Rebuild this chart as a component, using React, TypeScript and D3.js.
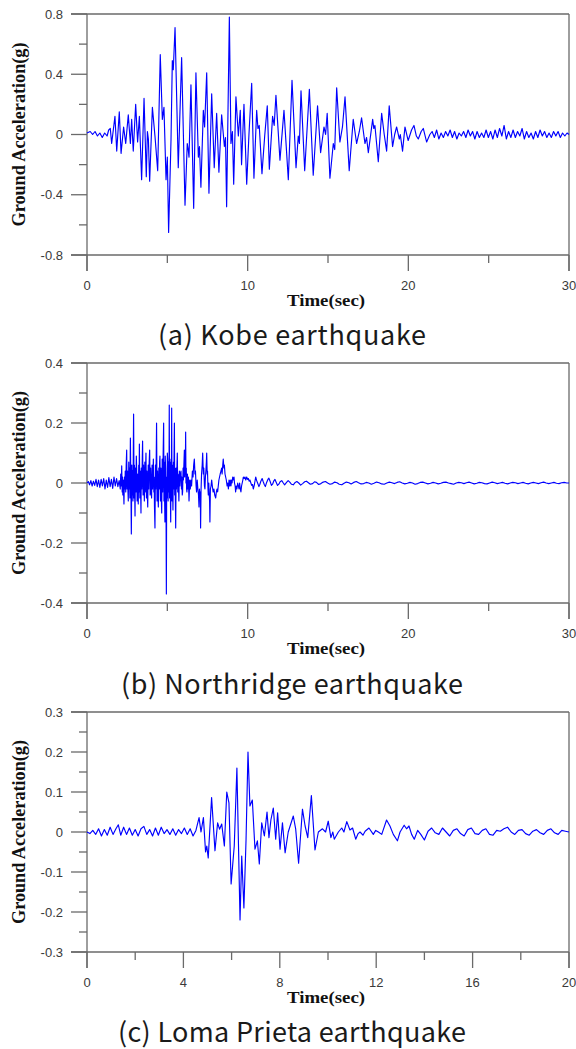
import React from 'react';
import * as d3 from 'd3';

type Pt = [number, number];

// [time (s), acceleration (g)]
const kobeRecord: Pt[] = [
  [0, 0.01], [0.2, 0.02], [0.35, 0.0], [0.5, 0.02], [0.65, -0.01], [0.8, 0.01], [0.95, -0.02], [1.1, 0.01], [1.25, -0.01], [1.35, 0.03], [1.45, 0.04],
  [1.535, -0.06], [1.74, 0.12], [1.85, -0.11], [2.01, 0.15], [2.12, -0.125], [2.28, 0.05], [2.41, -0.06], [2.57, 0.13], [2.7, -0.06], [2.78, 0.1],
  [2.88, -0.11], [3.03, 0.2], [3.15, -0.05], [3.26, 0.12], [3.4, -0.3], [3.55, 0.24], [3.69, -0.28], [3.76, 0.02], [3.82, -0.03], [3.9, -0.31],
  [4.07, 0.18], [4.23, -0.01], [4.4, -0.24], [4.56, 0.53], [4.69, 0.1], [4.79, 0.18], [4.92, -0.3], [5.0, -0.15], [5.08, -0.65], [5.23, -0.03],
  [5.31, 0.49], [5.37, 0.43], [5.48, 0.71], [5.6, 0.16], [5.68, -0.22], [5.89, 0.51], [6.1, -0.47], [6.24, -0.06], [6.3, -0.1], [6.35, -0.15],
  [6.47, 0.33], [6.64, -0.49], [6.78, 0.41], [6.93, -0.15], [7.0, -0.08], [7.09, -0.35], [7.24, 0.16], [7.32, 0.05], [7.45, 0.41], [7.59, -0.39],
  [7.76, 0.27], [7.92, -0.22], [8.07, 0.14], [8.21, -0.25], [8.38, 0.13], [8.55, -0.08], [8.62, -0.02], [8.69, -0.48], [8.86, 0.78], [8.96, -0.06],
  [9.05, 0.02], [9.13, -0.33], [9.27, 0.25], [9.42, -0.01], [9.54, 0.16], [9.62, -0.2], [9.77, 0.2], [9.94, -0.33], [10.08, 0.0], [10.25, 0.34],
  [10.39, -0.29], [10.56, 0.16], [10.64, 0.04], [10.72, 0.06], [10.89, -0.26], [11.06, -0.01], [11.22, 0.19], [11.35, -0.23], [11.55, 0.12],
  [11.65, 0.06], [11.76, 0.26], [12.01, -0.17], [12.26, 0.16], [12.53, -0.3], [12.76, 0.36], [13.01, -0.22], [13.15, -0.01], [13.22, -0.06],
  [13.32, 0.29], [13.55, -0.24], [13.84, 0.3], [14.08, -0.27], [14.35, 0.19], [14.54, -0.12], [14.75, 0.05], [14.85, 0.0], [14.95, 0.14],
  [15.12, -0.29], [15.33, -0.06], [15.42, -0.1], [15.54, 0.31], [15.74, -0.05], [15.9, 0.05], [16.06, 0.25], [16.32, -0.24], [16.57, 0.1],
  [16.78, -0.06], [16.95, 0.02], [17.09, 0.11], [17.3, -0.06], [17.4, -0.02], [17.51, -0.12], [17.78, 0.1], [17.85, 0.04], [17.92, 0.06],
  [18.13, -0.18], [18.34, 0.14], [18.5, 0.0], [18.65, -0.11], [18.81, 0.19], [19.02, -0.08], [19.15, 0.0], [19.27, 0.05], [19.44, -0.03],
  [19.5, 0.0], [19.64, -0.11], [19.79, 0.05], [19.99, -0.04], [20.2, 0.03], [20.35, 0.06], [20.5, -0.01], [20.62, -0.03], [20.8, 0.02],
  [20.93, 0.04], [21.14, -0.05], [21.34, 0.0],
  [21.48, 0.02], [21.62, -0.02], [21.76, 0.03], [21.9, -0.03], [22.04, 0.01], [22.18, -0.02], [22.32, 0.02], [22.46, -0.01], [22.6, 0.03],
  [22.74, -0.02], [22.88, 0.02], [23.02, -0.03], [23.16, 0.01], [23.3, -0.01], [23.44, 0.02], [23.58, -0.02], [23.72, 0.03], [23.86, -0.01],
  [24.0, 0.02], [24.14, -0.03], [24.28, 0.02], [24.42, -0.02], [24.56, 0.01], [24.7, -0.02], [24.84, 0.03], [24.98, -0.02], [25.12, 0.02],
  [25.26, -0.03], [25.4, 0.03], [25.54, -0.02], [25.68, 0.04], [25.82, -0.01], [25.96, 0.06], [26.1, -0.03], [26.24, 0.02], [26.38, -0.02],
  [26.52, 0.03], [26.66, -0.02], [26.8, 0.02], [26.94, -0.01], [27.08, 0.04], [27.22, -0.03], [27.36, 0.02], [27.5, -0.02], [27.64, 0.01],
  [27.78, -0.03], [27.92, 0.02], [28.06, -0.02], [28.2, 0.03], [28.34, -0.01], [28.48, 0.02], [28.62, -0.02], [28.76, 0.01], [28.9, -0.02],
  [29.04, 0.02], [29.18, -0.01], [29.32, 0.02], [29.46, -0.02], [29.6, 0.01], [29.74, -0.01], [29.88, 0.01], [30, 0.0],
];

const northridgeRecord: Pt[] = [
  [0, 0], [0.08, 0.005], [0.16, -0.006], [0.24, 0.008], [0.32, -0.01], [0.4, 0.006], [0.48, -0.008], [0.56, 0.012], [0.64, -0.012], [0.72, 0.01],
  [0.8, -0.015], [0.88, 0.012], [0.96, -0.01], [1.04, 0.015], [1.12, -0.02], [1.2, 0.01], [1.28, -0.015], [1.36, 0.018], [1.44, -0.012],
  [1.52, 0.012], [1.6, -0.018], [1.68, 0.02], [1.76, -0.01], [1.84, 0.015], [1.92, -0.012], [2.0, 0.008], [2.07, -0.02],
  [2.1, 0.03], [2.13, -0.01], [2.16, 0.057], [2.19, -0.03], [2.21, 0.02], [2.23, -0.04], [2.26, 0.01], [2.3, -0.07], [2.33, 0.02], [2.36, -0.02],
  [2.38, 0.04], [2.41, -0.03], [2.44, 0.06], [2.47, 0.11], [2.49, -0.02], [2.52, 0.04], [2.55, -0.03], [2.57, -0.06], [2.6, 0.07], [2.62, -0.02],
  [2.64, 0.05], [2.67, -0.05], [2.7, 0.15], [2.73, 0.0], [2.76, -0.17], [2.79, 0.06], [2.81, -0.04], [2.83, 0.04], [2.86, -0.06], [2.88, 0.08],
  [2.9, 0.23], [2.93, -0.05], [2.95, 0.06], [2.97, -0.04], [2.99, -0.11], [3.01, 0.05], [3.04, -0.03], [3.07, 0.09], [3.09, 0.05], [3.12, -0.06],
  [3.14, 0.03], [3.17, -0.04], [3.19, -0.07], [3.22, 0.06], [3.24, -0.03], [3.26, 0.13], [3.29, -0.05], [3.31, 0.04], [3.34, -0.03], [3.36, -0.1],
  [3.38, 0.05], [3.41, -0.02], [3.44, 0.08], [3.46, 0.14], [3.49, -0.04], [3.52, 0.06], [3.55, -0.02], [3.57, -0.06], [3.6, 0.07], [3.62, -0.03],
  [3.65, 0.05], [3.67, 0.1], [3.7, -0.05], [3.73, 0.04], [3.75, -0.03], [3.78, -0.08], [3.81, 0.06], [3.84, -0.02], [3.87, 0.07], [3.9, 0.11],
  [3.93, -0.04], [3.96, 0.05], [3.99, -0.02], [4.02, -0.05], [4.05, 0.06], [4.08, -0.02], [4.11, 0.04], [4.13, 0.08], [4.16, -0.03], [4.18, 0.02],
  [4.2, -0.08], [4.23, -0.15], [4.26, 0.06], [4.28, -0.02], [4.31, 0.09], [4.33, 0.2], [4.36, -0.06], [4.39, 0.04], [4.41, -0.03], [4.44, -0.08],
  [4.47, 0.05], [4.49, -0.02], [4.52, 0.07], [4.54, 0.09], [4.57, -0.06], [4.6, 0.05], [4.62, -0.04], [4.65, -0.1], [4.68, 0.08], [4.71, -0.03],
  [4.74, 0.1], [4.77, 0.2], [4.79, -0.06], [4.81, 0.07], [4.83, -0.05], [4.85, -0.13], [4.87, 0.09], [4.89, 0.05], [4.92, -0.1], [4.94, -0.37],
  [4.96, 0.02], [4.98, -0.05], [5.0, 0.1], [5.02, 0.08], [5.05, -0.06], [5.07, 0.07], [5.1, -0.03], [5.12, 0.26], [5.14, -0.05], [5.16, 0.08],
  [5.19, -0.04], [5.21, -0.13], [5.23, 0.07], [5.25, -0.03], [5.27, 0.25], [5.29, -0.06], [5.31, 0.06], [5.33, -0.02], [5.35, -0.09], [5.38, 0.07],
  [5.4, -0.02], [5.42, 0.1], [5.44, 0.2], [5.46, -0.04], [5.48, 0.05], [5.5, -0.06], [5.52, -0.15], [5.55, 0.05], [5.57, -0.02], [5.6, 0.06],
  [5.62, 0.1], [5.65, -0.03], [5.67, 0.03], [5.7, -0.02], [5.72, -0.06], [5.75, 0.04], [5.78, -0.01], [5.81, 0.03], [5.85, 0.04], [5.88, -0.02],
  [5.9, 0.02], [5.93, -0.04], [5.95, -0.03], [5.98, 0.05], [6.0, 0.01], [6.03, 0.06], [6.06, 0.11], [6.08, 0.02], [6.1, 0.07], [6.12, 0.03],
  [6.14, 0.17], [6.16, 0.0], [6.18, 0.05], [6.2, -0.02], [6.22, -0.03], [6.25, 0.03], [6.28, -0.02], [6.31, 0.02], [6.35, -0.06], [6.39, 0.01],
  [6.43, -0.02], [6.47, 0.01], [6.51, -0.01], [6.56, 0.04], [6.6, 0.02], [6.64, 0.06], [6.68, 0.08], [6.72, 0.03], [6.75, 0.04], [6.79, -0.01],
  [6.82, -0.03], [6.86, 0.01], [6.9, -0.02], [6.94, -0.04], [6.97, -0.08], [7.0, -0.02], [7.02, -0.05], [7.05, -0.03], [7.07, -0.15], [7.1, -0.02],
  [7.13, 0.03], [7.17, 0.06], [7.2, 0.1], [7.24, 0.03], [7.27, 0.05], [7.31, -0.01], [7.34, -0.02], [7.37, 0.02], [7.4, 0.04], [7.43, 0.07],
  [7.45, 0.1], [7.48, 0.03], [7.5, 0.04], [7.53, -0.02], [7.55, -0.04], [7.58, 0.0], [7.6, -0.03], [7.63, -0.06], [7.65, -0.13], [7.68, -0.02],
  [7.72, -0.01], [7.76, 0.01], [7.8, -0.01], [7.85, -0.03], [7.9, -0.02], [7.95, -0.04], [8.01, -0.05], [8.05, -0.03], [8.09, -0.02],
  [8.13, -0.03], [8.17, -0.01], [8.21, 0.01], [8.25, 0.02], [8.29, 0.03], [8.34, 0.04], [8.38, 0.05], [8.41, 0.03], [8.45, 0.06], [8.48, 0.08],
  [8.52, 0.05], [8.55, 0.06], [8.59, 0.03], [8.63, 0.02], [8.67, 0.01], [8.72, -0.01], [8.76, 0.0], [8.8, -0.02], [8.84, 0.01], [8.88, -0.01],
  [8.92, 0.01], [8.96, -0.01], [9.0, 0.01], [9.03, 0.0], [9.07, 0.02], [9.11, 0.01], [9.15, 0.02], [9.18, 0.0], [9.22, -0.01], [9.25, -0.03],
  [9.29, -0.01], [9.33, -0.02], [9.38, 0.0], [9.42, -0.01], [9.46, -0.02], [9.5, 0.0], [9.54, -0.02], [9.58, -0.03], [9.62, -0.01], [9.66, 0.0],
  [9.7, 0.01], [9.73, 0.02], [9.78, 0.015], [9.83, 0.02], [9.88, 0.01], [9.94, 0.02], [9.99, 0.012], [10.04, 0.015], [10.09, 0.006], [10.14, 0.01],
  [10.2, 0.0], [10.25, -0.008], [10.3, -0.005], [10.35, -0.02],
  [10.42, -0.005], [10.5, 0.02], [10.56, 0.008], [10.62, 0.0], [10.7, -0.012], [10.76, -0.004], [10.82, 0.006], [10.9, 0.015], [10.97, 0.004],
  [11.04, -0.006], [11.1, -0.012], [11.18, 0.002], [11.26, 0.012], [11.32, 0.016], [11.4, 0.005], [11.48, -0.008], [11.55, -0.004],
  [11.62, 0.006], [11.7, 0.012], [11.78, 0.002], [11.86, -0.008], [11.94, -0.004], [12.02, 0.004], [12.12, 0.008], [12.22, 0.0],
  [12.3, -0.006], [12.42, 0.002], [12.52, 0.008], [12.62, 0.003], [12.72, -0.004], [12.84, -0.006], [12.96, 0.002], [13.06, 0.005],
  [13.18, 0.0], [13.3, -0.007], [13.42, -0.002], [13.55, 0.004], [13.66, 0.006], [13.78, 0.001], [13.9, -0.004], [14.04, -0.002],
  [14.16, 0.004], [14.28, 0.002], [14.42, -0.005], [14.56, -0.002], [14.7, 0.003], [14.84, 0.005], [14.98, 0.0], [15.12, -0.004],
  [15.28, -0.002], [15.42, 0.003], [15.56, 0.001], [15.7, -0.004], [15.86, -0.006], [16.0, -0.001], [16.14, 0.003], [16.3, 0.001],
  [16.44, -0.003], [16.6, 0.002], [16.76, 0.005], [16.9, 0.001], [17.06, -0.003], [17.22, -0.002], [17.38, 0.002], [17.54, 0.0],
  [17.7, -0.004], [17.86, -0.001], [18.02, 0.003], [18.18, 0.001], [18.34, -0.003], [18.5, -0.004], [18.66, 0.0], [18.82, 0.003],
  [18.98, 0.001], [19.14, -0.002], [19.3, 0.002], [19.46, 0.004], [19.62, 0.0], [19.78, -0.003], [19.94, -0.001], [20.1, 0.002],
  [20.26, 0.0], [20.42, -0.004], [20.58, -0.002], [20.74, 0.002], [20.9, 0.003], [21.06, 0.0], [21.22, -0.003], [21.38, -0.001],
  [21.54, 0.002], [21.7, 0.0], [21.86, -0.003], [22.02, -0.001], [22.18, 0.002], [22.34, 0.003], [22.5, 0.0], [22.66, -0.002],
  [22.82, -0.004], [22.98, 0.0], [23.14, 0.002], [23.3, 0.001], [23.46, -0.002], [23.62, 0.001], [23.78, 0.003], [23.94, 0.0],
  [24.1, -0.003], [24.26, -0.001], [24.42, 0.002], [24.58, 0.001], [24.74, -0.002], [24.9, -0.003], [25.06, 0.0], [25.22, 0.003],
  [25.38, 0.001], [25.54, -0.002], [25.7, 0.0], [25.86, 0.002], [26.02, -0.001], [26.18, -0.003], [26.34, 0.0], [26.5, 0.002],
  [26.66, 0.001], [26.82, -0.002], [26.98, 0.0], [27.14, 0.002], [27.3, -0.001], [27.46, -0.003], [27.62, 0.0], [27.78, 0.002],
  [27.94, 0.0], [28.1, -0.002], [28.26, 0.001], [28.42, 0.003], [28.58, 0.0], [28.74, -0.002], [28.9, 0.0], [29.06, 0.002],
  [29.22, -0.001], [29.38, -0.002], [29.54, 0.001], [29.7, 0.002], [29.86, 0.0], [30, 0.0],
];

const lomaPrietaRecord: Pt[] = [
  [0, 0], [0.12, -0.004], [0.24, 0.004], [0.36, -0.006], [0.48, 0.008], [0.6, -0.01], [0.72, 0.006], [0.84, -0.008], [0.96, 0.012], [1.08, -0.006],
  [1.2, 0.008], [1.3, 0.018], [1.4, -0.008], [1.52, 0.012], [1.64, -0.006], [1.76, 0.01], [1.88, -0.008], [2.0, 0.006], [2.12, -0.01],
  [2.24, 0.008], [2.36, 0.014], [2.48, -0.006], [2.6, 0.006], [2.72, -0.01], [2.84, 0.01], [2.96, -0.008], [3.08, 0.012], [3.2, -0.004],
  [3.32, 0.006], [3.44, -0.006], [3.56, 0.008], [3.68, -0.008], [3.8, 0.006], [3.92, -0.004], [4.04, 0.01], [4.16, -0.006], [4.28, 0.008],
  [4.4, -0.01], [4.52, 0.004],
  [4.65, 0.036], [4.73, 0.0], [4.83, 0.036], [4.92, -0.05], [4.97, -0.035], [5.03, -0.065], [5.17, 0.086], [5.31, -0.047], [5.42, 0.023],
  [5.5, 0.007], [5.59, 0.02], [5.7, -0.035], [5.8, 0.1], [5.89, 0.073], [5.98, -0.13], [6.11, -0.035], [6.22, 0.16], [6.35, -0.22],
  [6.42, -0.06], [6.51, -0.19], [6.6, -0.018], [6.68, 0.2], [6.76, 0.065], [6.86, 0.08], [6.97, -0.043], [7.07, -0.022], [7.15, -0.08],
  [7.25, 0.023], [7.36, -0.01], [7.47, 0.05], [7.55, -0.014], [7.63, 0.03], [7.73, 0.06], [7.83, -0.018], [7.91, 0.048], [8.01, -0.043],
  [8.11, 0.023], [8.22, -0.052], [8.35, 0.0], [8.56, 0.04], [8.66, 0.007], [8.78, -0.078], [8.94, 0.057], [9.05, 0.015], [9.16, -0.014],
  [9.31, 0.091], [9.46, -0.045], [9.6, 0.0], [9.77, 0.008], [9.9, 0.0], [10.01, 0.027], [10.12, -0.014], [10.2, 0.0], [10.26, -0.018],
  [10.43, 0.0], [10.57, 0.01], [10.66, 0.0], [10.78, 0.026], [10.91, 0.005], [11.02, 0.01], [11.15, -0.018], [11.25, -0.004], [11.33, 0.0],
  [11.45, -0.008], [11.54, 0.002], [11.7, 0.01], [11.88, -0.006], [11.98, 0.004], [12.09, 0.0], [12.23, -0.006], [12.43, 0.03], [12.57, 0.015],
  [12.71, -0.006], [12.88, -0.022], [12.99, 0.0], [13.16, 0.017], [13.26, 0.008], [13.36, 0.015], [13.47, -0.006], [13.58, -0.018],
  [13.72, 0.004], [13.85, -0.006], [14.0, -0.02], [14.15, 0.002], [14.3, 0.01], [14.45, -0.002], [14.6, -0.006], [14.75, 0.01], [14.9, 0.0],
  [15.05, -0.01], [15.2, 0.004], [15.35, 0.008], [15.5, -0.004], [15.65, -0.01], [15.8, 0.006], [15.95, 0.01], [16.1, -0.004], [16.25, -0.006],
  [16.4, 0.004], [16.55, 0.008], [16.7, -0.006], [16.85, -0.008], [17.0, 0.004], [17.15, 0.002], [17.3, 0.008], [17.45, 0.012], [17.6, 0.0],
  [17.75, -0.006], [17.9, 0.004], [18.05, 0.006], [18.2, -0.004], [18.35, -0.008], [18.5, 0.002], [18.65, 0.006], [18.8, -0.002],
  [18.95, -0.006], [19.1, 0.004], [19.25, 0.008], [19.4, -0.002], [19.55, -0.006], [19.7, 0.004], [19.85, 0.002], [20, 0.0],
];

const kobeYTicks = [-0.8, -0.4, 0, 0.4, 0.8];
const kobeXTicks = [0, 10, 20, 30];
const northridgeYTicks = [-0.4, -0.2, 0, 0.2, 0.4];
const northridgeXTicks = [0, 10, 20, 30];
const lomaPrietaYTicks = [-0.3, -0.2, -0.1, 0, 0.1, 0.2, 0.3];
const lomaPrietaXTicks = [0, 4, 8, 12, 16, 20];
const captions = ['(a) Kobe earthquake', '(b) Northridge earthquake', '(c) Loma Prieta earthquake'];
const xTitle = 'Time(sec)';
const yTitle = 'Ground Acceleration(g)';

const LEFT = 87;
const RIGHT = 569;
const AXIS = '#6a6a6a';
const LABEL = '#3a3a3a';

function midpoints(ticks: number[]): number[] {
  const out: number[] = [];
  for (let i = 0; i < ticks.length - 1; i++) out.push((ticks[i] + ticks[i + 1]) / 2);
  return out;
}

interface PanelProps {
  data: Pt[];
  xTicks: number[];
  yTicks: number[];
  top: number;
  bottom: number;
  caption: string;
  captionY: number;
  captionWidth: number;
}

function Panel({ data, xTicks, yTicks, top, bottom, caption, captionY, captionWidth }: PanelProps) {
  const x = d3.scaleLinear().domain([xTicks[0], xTicks[xTicks.length - 1]]).range([LEFT, RIGHT]);
  const y = d3.scaleLinear().domain([yTicks[0], yTicks[yTicks.length - 1]]).range([bottom, top]);
  const line = d3.line<Pt>().x((d) => x(d[0])).y((d) => y(d[1]));
  const xMinor = midpoints(xTicks);
  const yMinor = midpoints(yTicks);
  const mid = (top + bottom) / 2;
  return (
    <g>
      <g stroke={AXIS} strokeWidth={1.3} fill="none">
        <line x1={LEFT - 16} x2={RIGHT} y1={top} y2={top} />
        <line x1={LEFT - 16} x2={RIGHT} y1={bottom} y2={bottom} />
        <line x1={LEFT} x2={LEFT} y1={top} y2={bottom + 16} />
        <line x1={RIGHT} x2={RIGHT} y1={top} y2={bottom + 16} />
        {yTicks.map((t) => (
          <line key={'ym' + t} x1={LEFT - 16} x2={LEFT} y1={y(t)} y2={y(t)} />
        ))}
        {yMinor.map((t) => (
          <line key={'yn' + t} x1={LEFT - 8} x2={LEFT} y1={y(t)} y2={y(t)} />
        ))}
        {xTicks.map((t) => (
          <line key={'xm' + t} x1={x(t)} x2={x(t)} y1={bottom} y2={bottom + 16} />
        ))}
        {xMinor.map((t) => (
          <line key={'xn' + t} x1={x(t)} x2={x(t)} y1={bottom} y2={bottom + 8} />
        ))}
      </g>
      <path d={line(data) || ''} fill="none" stroke="#0000ff" strokeWidth={1.15} strokeLinejoin="round" />
      <g fontFamily="'Liberation Sans', Arial, sans-serif" fontSize={13} fill={LABEL}>
        {yTicks.map((t) => (
          <text key={'yl' + t} x={63} y={y(t)} dy="0.35em" textAnchor="end">
            {String(t)}
          </text>
        ))}
        {xTicks.map((t) => (
          <text key={'xl' + t} x={x(t)} y={bottom + 35} textAnchor="middle">
            {String(t)}
          </text>
        ))}
      </g>
      <text
        x={326}
        y={bottom + 51}
        textAnchor="middle"
        fontFamily="'Liberation Serif', 'Times New Roman', serif"
        fontWeight="bold"
        fontSize={17}
        fill="#111"
        textLength={78}
        lengthAdjust="spacingAndGlyphs"
      >
        {xTitle}
      </text>
      <text
        transform={`translate(25, ${mid}) rotate(-90)`}
        textAnchor="middle"
        fontFamily="'Liberation Serif', 'Times New Roman', serif"
        fontWeight="bold"
        fontSize={18}
        fill="#111"
        textLength={184}
        lengthAdjust="spacingAndGlyphs"
      >
        {yTitle}
      </text>
      <text
        x={292}
        y={captionY}
        textAnchor="middle"
        fontFamily="'Noto Sans CJK KR', 'Noto Sans', sans-serif"
        fontSize={27}
        fill="#1a1a1a"
        textLength={captionWidth}
        lengthAdjust="spacing"
      >
        {caption}
      </text>
    </g>
  );
}

export default function App() {
  return (
    <svg
      width={576}
      height={1049}
      style={{ position: 'absolute', left: 0, top: 0, background: '#fff', display: 'block' }}
    >
      <rect x={0} y={0} width={576} height={1049} fill="#fff" />
      <Panel data={kobeRecord} xTicks={kobeXTicks} yTicks={kobeYTicks} top={14} bottom={255} caption={captions[0]} captionY={345} captionWidth={268} />
      <Panel data={northridgeRecord} xTicks={northridgeXTicks} yTicks={northridgeYTicks} top={363} bottom={603} caption={captions[1]} captionY={694} captionWidth={342} />
      <Panel data={lomaPrietaRecord} xTicks={lomaPrietaXTicks} yTicks={lomaPrietaYTicks} top={712} bottom={952} caption={captions[2]} captionY={1042} captionWidth={348} />
    </svg>
  );
}
